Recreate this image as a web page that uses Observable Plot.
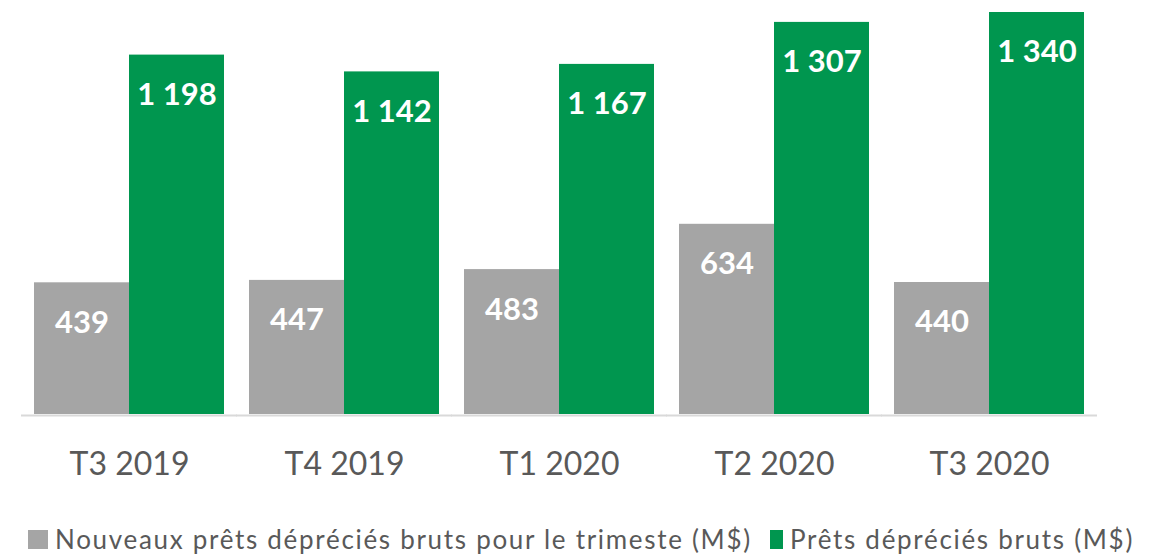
<!DOCTYPE html>
<html>
<head>
<meta charset="utf-8">
<script src="https://cdn.jsdelivr.net/npm/d3@7"></script>
<script src="https://cdn.jsdelivr.net/npm/@observablehq/plot@0.6"></script>
<style>
  html, body { margin: 0; padding: 0; background: #fff; }
  #wrap { position: relative; width: 1162px; height: 554px; overflow: hidden; font-family: Lato, "Open Sans", sans-serif; }
  #legend { position: absolute; left: 0; top: 524px; width: 1162px; height: 32px; color: #595959; font-size: 26px; letter-spacing: 1.7px; }
  .item { position: absolute; top: 0; display: flex; align-items: center; height: 30px; white-space: nowrap; }
  .sw { display: inline-block; height: 19px; margin-right: 7px; }
</style>
</head>
<body>
<div id="wrap">
  <div id="chart"></div>
  <div id="legend"></div>
</div>
<script>
const quarters = ["T3 2019", "T4 2019", "T1 2020", "T2 2020", "T3 2020"];
const seriesNames = ["Nouveaux prêts dépréciés bruts pour le trimeste (M$)", "Prêts dépréciés bruts (M$)"];
const nouveaux = [439, 447, 483, 634, 440];
const bruts = [1198, 1142, 1167, 1307, 1340];
const colors = ["#A5A5A5", "#00964F"];

const data = [];
quarters.forEach((q, i) => {
  data.push({q, s: seriesNames[0], v: nouveaux[i]});
  data.push({q, s: seriesNames[1], v: bruts[i]});
});

const fmt = d3.formatLocale({decimal: ",", thousands: " ", grouping: [3], currency: ["", " $"]}).format(",d");

const chart = Plot.plot({
  width: 1162,
  height: 500,
  marginTop: 12,
  marginBottom: 86,
  marginLeft: 21,
  marginRight: 64,
  style: {fontFamily: "Lato, 'Open Sans', sans-serif", fontSize: "32px", color: "#595959", background: "#fff"},
  fx: {domain: quarters, paddingInner: 0.114, paddingOuter: 0.057, label: null, axis: "bottom", tickSize: 0, tickPadding: 38},
  x: {domain: seriesNames, padding: 0, axis: null},
  y: {domain: [0, 1340], axis: null},
  color: {domain: seriesNames, range: colors},
  marks: [
    Plot.barY(data, {fx: "q", x: "s", y: "v", fill: "s"}),
    Plot.ruleY([0], {stroke: "#D9D9D9", strokeWidth: 2, dy: 1, insetLeft: -13, insetRight: -13}),
    Plot.text(data, {fx: "q", x: "s", y: "v", text: d => fmt(d.v), dy: 40, fill: "white", fontWeight: "bold", fontSize: 31})
  ]
});
document.getElementById("chart").appendChild(chart);

const legend = document.getElementById("legend");
const lefts = [28, 770];
const swW = [20, 13];
seriesNames.forEach((name, i) => {
  const item = document.createElement("div");
  item.className = "item";
  item.style.left = lefts[i] + "px";
  const sw = document.createElement("span");
  sw.className = "sw";
  sw.style.width = swW[i] + "px";
  sw.style.background = colors[i];
  const t = document.createElement("span");
  t.textContent = name;
  item.appendChild(sw);
  item.appendChild(t);
  legend.appendChild(item);
});
</script>
</body>
</html>
